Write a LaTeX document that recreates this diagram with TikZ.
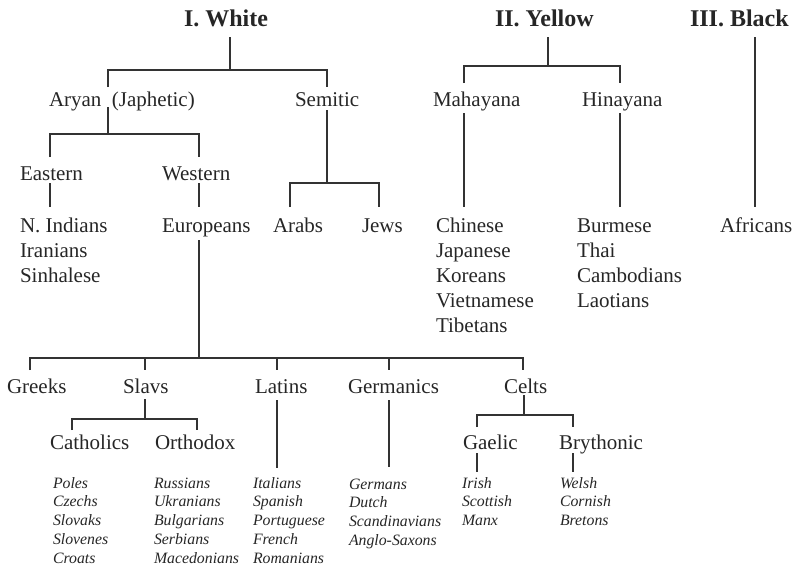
\documentclass[tikz,border=0pt]{standalone}
\usepackage{fontspec}
\setmainfont{Liberation Serif}
\begin{document}
\begin{tikzpicture}[x=1pt,y=-1pt,
  every node/.style={inner sep=0pt, outer sep=0pt, anchor=base west, text=black!85},
  head/.style={font=\fontsize{24}{28}\selectfont\bfseries},
  grp/.style={font=\fontsize{21}{25}\selectfont, align=left},
  lst/.style={font=\fontsize{15.8}{18.75}\selectfont\itshape, align=left},
  conn/.style={line width=1.2pt, draw=black!80}]
\useasboundingbox (0,0) rectangle (801,570);
% headings
\node[head] (white) at (184,27) {I. White};
\node[head] (yellow) at (495,27) {II. Yellow};
\node[head] (black) at (690,27) {III. Black};
% level 1
\node[grp] (aryan) at (49,106) {Aryan\hspace{0.5em}(Japhetic)};
\node[grp] (semitic) at (295,106) {Semitic};
\node[grp] (maha) at (433,106) {Mahayana};
\node[grp] (hina) at (582,106) {Hinayana};
% level 2
\node[grp] (eastern) at (20,180) {Eastern};
\node[grp] (western) at (162,180) {Western};
% level 3 (multi-line nodes: base = last line's baseline)
\node[grp] (eastlist) at (20,282) {N. Indians\\Iranians\\Sinhalese};
\node[grp] (europeans) at (162,232) {Europeans};
\node[grp] (arabs) at (273,232) {Arabs};
\node[grp] (jews) at (362,232) {Jews};
\node[grp] (mahalist) at (436,332) {Chinese\\Japanese\\Koreans\\Vietnamese\\Tibetans};
\node[grp] (hinalist) at (577,307) {Burmese\\Thai\\Cambodians\\Laotians};
\node[grp] (africans) at (720,232) {Africans};
% European groups
\node[grp] (greeks) at (7,393) {Greeks};
\node[grp] (slavs) at (123,393) {Slavs};
\node[grp] (latins) at (255,393) {Latins};
\node[grp] (germanics) at (348,393) {Germanics};
\node[grp] (celts) at (504,393) {Celts};
\node[grp] (catholics) at (50,449) {Catholics};
\node[grp] (orthodox) at (155,449) {Orthodox};
\node[grp] (gaelic) at (463,449) {Gaelic};
\node[grp] (brythonic) at (559,449) {Brythonic};
% italic lists
\node[lst] (catlist) at (53,563) {Poles\\Czechs\\Slovaks\\Slovenes\\Croats};
\node[lst] (ortlist) at (154,563) {Russians\\Ukranians\\Bulgarians\\Serbians\\Macedonians};
\node[lst] (latlist) at (253,563) {Italians\\Spanish\\Portuguese\\French\\Romanians};
\node[lst] (gerlist) at (349,545.25) {Germans\\Dutch\\Scandinavians\\Anglo-Saxons};
\node[lst] (gaelist) at (462,525.5) {Irish\\Scottish\\Manx};
\node[lst] (brylist) at (560,525.5) {Welsh\\Cornish\\Bretons};
% junction coordinates
\coordinate (wT) at (230,37);  \coordinate (wJ) at (230,70);
\coordinate (yT) at (548,37);  \coordinate (yJ) at (548,66);
\coordinate (bT) at (755,37);  \coordinate (bB) at (755,207);
\coordinate (aT) at (108,107); \coordinate (aJ) at (108,134);
\coordinate (sT) at (327,110); \coordinate (sJ) at (327,183);
\coordinate (eT) at (199,240); \coordinate (eJ) at (199,358);
\coordinate (slT) at (145,399); \coordinate (slJ) at (145,419);
\coordinate (ceT) at (524,395); \coordinate (ceJ) at (524,415);
% White
\draw[conn] (wT) -- (wJ);
\draw[conn] (108,87) -- (108,70) -- (327,70) -- (327,87);
\draw[conn] (aT) -- (aJ);
\draw[conn] (50,157) -- (50,134) -- (199,134) -- (199,157);
\draw[conn] (50,183) -- (50,207);
\draw[conn] (199,183) -- (199,207);
\draw[conn] (sT) -- (sJ);
\draw[conn] (290,207) -- (290,183) -- (379,183) -- (379,207);
% Europeans
\draw[conn] (eT) -- (eJ);
\draw[conn] (30,370) -- (30,358) -- (523,358) -- (523,370);
\foreach \xx in {145,277,389} \draw[conn] (\xx,358) -- (\xx,370);
\draw[conn] (slT) -- (slJ);
\draw[conn] (72,430) -- (72,419) -- (197,419) -- (197,430);
\draw[conn] (277,400) -- (277,468);
\draw[conn] (389,400) -- (389,467);
\draw[conn] (ceT) -- (ceJ);
\draw[conn] (477,427) -- (477,415) -- (573,415) -- (573,427);
\draw[conn] (477,453) -- (477,472);
\draw[conn] (573,453) -- (573,472);
% Yellow
\draw[conn] (yT) -- (yJ);
\draw[conn] (464,83) -- (464,66) -- (620,66) -- (620,83);
\draw[conn] (464,113) -- (464,207);
\draw[conn] (620,113) -- (620,207);
% Black
\draw[conn] (bT) -- (bB);
\end{tikzpicture}
\end{document}
